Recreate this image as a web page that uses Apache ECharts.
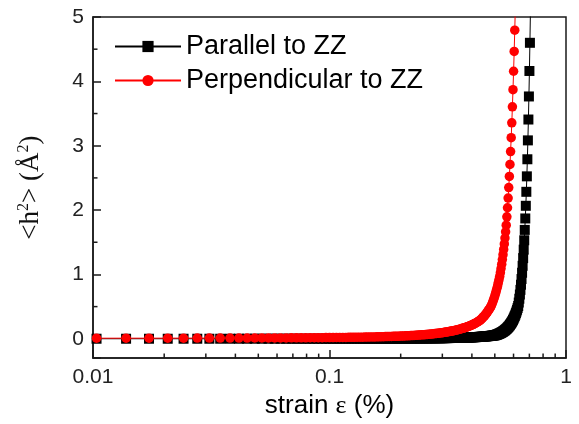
<!DOCTYPE html>
<html><head><meta charset="utf-8">
<script src="https://cdn.jsdelivr.net/npm/echarts@6/dist/echarts.min.js"></script>
<style>html,body{margin:0;padding:0;background:#fff}#c{width:579px;height:424px}</style>
</head><body><div id="c"></div>
<script>
// strain values (%)
const strain = [
0.01035,0.0138,0.01725,0.0207,0.02415,0.0276,0.03105,0.0345,0.03795,0.0414,
0.04485,0.0483,0.05175,0.0552,0.05865,0.0621,0.06555,0.069,0.07245,0.0759,
0.07935,0.0828,0.08625,0.0897,0.09315,0.0966,0.10005,0.1035,0.10695,0.1104,
0.11385,0.1173,0.12075,0.1242,0.12765,0.1311,0.13455,0.138,0.14145,0.1449,
0.14835,0.1518,0.15525,0.1587,0.16215,0.1656,0.16905,0.1725,0.17595,0.1794,
0.18285,0.1863,0.18975,0.1932,0.19665,0.2001,0.20355,0.207,0.21045,0.2139,
0.21735,0.2208,0.22425,0.2277,0.23115,0.2346,0.23805,0.2415,0.24495,0.2484,
0.25185,0.2553,0.25875,0.2622,0.26565,0.2691,0.27255,0.276,0.27945,0.2829,
0.28635,0.2898,0.29325,0.2967,0.30015,0.3036,0.30705,0.3105,0.31395,0.3174,
0.32085,0.3243,0.32775,0.3312,0.33465,0.3381,0.34155,0.345,0.34845,0.3519,
0.35535,0.3588,0.36225,0.3657,0.36915,0.3726,0.37605,0.3795,0.38295,0.3864,
0.38985,0.3933,0.39675,0.4002,0.40365,0.4071,0.41055,0.414,0.41745,0.4209,
0.42435,0.4278,0.43125,0.4347,0.43815,0.4416,0.44505,0.4485,0.45195,0.4554,
0.45885,0.4623,0.46575,0.4692,0.47265,0.4761,0.47955,0.483,0.48645,0.4899,
0.49335,0.4968,0.50025,0.5037,0.50715,0.5106,0.51405,0.5175,0.52095,0.5244,
0.52785,0.5313,0.53475,0.5382,0.54165,0.5451,0.54855,0.552,0.55545,0.5589,
0.56235,0.5658,0.56925,0.5727,0.57615,0.5796,0.58305,0.5865,0.58995,0.5934,
0.59685,0.6003,0.60375,0.6072,0.61065,0.6141,0.61755,0.621,0.62445,0.6279,
0.63135,0.6348,0.63825,0.6417,0.64515,0.6486,0.65205,0.6555,0.65895,0.6624,
0.66585,0.6693,0.67275,0.6762,0.67965,0.6831,0.68655,0.69,0.69345,0.6969,
0.70035,0.7038,0.70725
];
// <h^2> (A^2), parallel to ZZ
const parallelZZ = [
0.0008,0.0008,0.0008,0.0008,0.0009,0.0009,0.0009,0.0009,0.0010,0.0010,
0.0010,0.0011,0.0011,0.0011,0.0012,0.0012,0.0012,0.0013,0.0013,0.0014,
0.0014,0.0014,0.0015,0.0015,0.0016,0.0016,0.0017,0.0017,0.0018,0.0018,
0.0019,0.0019,0.0020,0.0021,0.0021,0.0022,0.0023,0.0023,0.0024,0.0025,
0.0026,0.0026,0.0027,0.0028,0.0029,0.0030,0.0031,0.0032,0.0032,0.0033,
0.0035,0.0036,0.0037,0.0038,0.0039,0.0040,0.0041,0.0043,0.0044,0.0045,
0.0047,0.0048,0.0050,0.0051,0.0053,0.0054,0.0056,0.0058,0.0059,0.0061,
0.0063,0.0065,0.0067,0.0069,0.0071,0.0073,0.0075,0.0078,0.0080,0.0083,
0.0085,0.0088,0.0090,0.0093,0.0096,0.0099,0.0102,0.0105,0.0108,0.0111,
0.0115,0.0118,0.0122,0.0125,0.0129,0.0133,0.0137,0.0141,0.0146,0.0150,
0.0155,0.0159,0.0164,0.0169,0.0174,0.0180,0.0185,0.0191,0.0197,0.0203,
0.0209,0.0215,0.0221,0.0228,0.0235,0.0242,0.0250,0.0257,0.0265,0.0273,
0.0282,0.0290,0.0299,0.0308,0.0318,0.0327,0.0337,0.0348,0.0358,0.0369,
0.0380,0.0392,0.0404,0.0416,0.0429,0.0442,0.0455,0.0469,0.0484,0.0498,
0.0513,0.0529,0.0545,0.0579,0.0615,0.0653,0.0693,0.0736,0.0781,0.0830,
0.0881,0.0935,0.0993,0.1055,0.1120,0.1189,0.1262,0.1340,0.1423,0.1511,
0.1604,0.1704,0.1809,0.1920,0.2039,0.2165,0.2299,0.2441,0.2592,0.2756,
0.2931,0.3117,0.3314,0.3524,0.3748,0.3985,0.4238,0.4507,0.4792,0.5096,
0.5632,0.6224,0.6879,0.7602,0.8402,0.9285,1.0262,1.1341,1.2534,1.3852,
1.5309,1.6919,1.8698,2.0665,2.2838,2.5240,2.7895,3.0829,3.4071,3.7654,
4.1614,4.5991,5.0828
];
// <h^2> (A^2), perpendicular to ZZ
const perpendicularZZ = [
0.0091,0.0094,0.0096,0.0099,0.0102,0.0105,0.0108,0.0111,0.0114,0.0117,
0.0120,0.0124,0.0127,0.0131,0.0134,0.0138,0.0142,0.0146,0.0150,0.0155,
0.0159,0.0163,0.0168,0.0173,0.0178,0.0183,0.0188,0.0193,0.0199,0.0204,
0.0211,0.0216,0.0222,0.0229,0.0235,0.0242,0.0249,0.0256,0.0263,0.0271,
0.0279,0.0287,0.0295,0.0303,0.0312,0.0321,0.0330,0.0339,0.0349,0.0359,
0.0369,0.0379,0.0390,0.0401,0.0413,0.0424,0.0437,0.0449,0.0462,0.0475,
0.0488,0.0502,0.0516,0.0531,0.0546,0.0562,0.0578,0.0594,0.0611,0.0628,
0.0646,0.0664,0.0683,0.0703,0.0723,0.0743,0.0764,0.0786,0.0808,0.0831,
0.0854,0.0879,0.0904,0.0929,0.0956,0.0983,0.1011,0.1039,0.1069,0.1099,
0.1130,0.1162,0.1195,0.1229,0.1264,0.1300,0.1337,0.1375,0.1414,0.1454,
0.1496,0.1538,0.1582,0.1627,0.1673,0.1720,0.1769,0.1819,0.1871,0.1924,
0.1979,0.2035,0.2093,0.2152,0.2213,
0.2281,0.2350,0.2422,0.2496,0.2572,0.2650,0.2731,0.2814,
0.2929,0.3048,0.3173,0.3302,0.3437,0.3577,0.3723,0.3875,0.4033,0.4198,0.4369,0.4547,0.4733,0.4926,0.5127,
0.5406,0.5700,0.6011,0.6338,0.6683,0.7047,0.7430,0.7835,0.8261,0.8711,0.9185,0.9685,
1.028,1.092,1.160,1.231,1.307,1.388,1.474,1.565,1.662,1.765,
1.896,2.036,2.187,2.349,2.522,2.709,2.909,3.125,3.356,3.604,3.871,4.157,4.465,4.795,5.150
];
const seriesNames = ['Parallel to ZZ', 'Perpendicular to ZZ'];
const xTickLabels = ['0.01', '0.1', '1'];
const xMinorTicks = [0.02,0.03,0.04,0.05,0.06,0.07,0.08,0.09,0.2,0.3,0.4,0.5,0.6,0.7,0.8,0.9];
const yMinorTicks = [0.5,1.5,2.5,3.5,4.5];

const axisColor = '#1a1a1a';
const sans = 'Liberation Sans, Arial, sans-serif';
const serif = 'Liberation Serif, Times New Roman, serif';

const chart = echarts.init(document.getElementById('c'), null, {renderer: 'canvas'});
const pair = (ys) => ys.map((y, k) => [strain[k], y]);

chart.setOption({
  animation: false,
  backgroundColor: '#fff',
  grid: {left: 93, right: 13, top: 17, bottom: 57, show: true, borderColor: axisColor, borderWidth: 1.5, backgroundColor: 'transparent'},
  legend: {
    data: seriesNames, orient: 'vertical', left: 114, top: 33, padding: 0, itemGap: 7,
    itemWidth: 66, itemHeight: 14,
    textStyle: {fontFamily: sans, fontSize: 27, color: '#000'}
  },
  xAxis: {
    type: 'log', logBase: 10, min: 0.01, max: 1,
    name: 'strain {e|ε} (%)', nameLocation: 'middle', nameGap: 34,
    nameTextStyle: {fontFamily: sans, fontSize: 26, color: '#000',
      rich: {e: {fontFamily: serif, fontSize: 26, color: '#000'}}},
    axisLine: {onZero: false, lineStyle: {color: axisColor, width: 1.5}},
    axisTick: {inside: true, length: 8, lineStyle: {color: axisColor, width: 1.5}},
    splitLine: {show: false},
    axisLabel: {fontFamily: sans, fontSize: 21, color: '#222', margin: 9,
      formatter: (v) => { const k = Math.round(Math.log10(v)) + 2; return xTickLabels[k] !== undefined ? xTickLabels[k] : ''; }}
  },
  yAxis: {
    type: 'value', min: -0.3, max: 5,
    name: '<h{s|2}> (Å{s|2})', nameLocation: 'middle', nameRotate: 90, nameGap: 47,
    nameTextStyle: {fontFamily: serif, fontSize: 27, color: '#111', lineHeight: 30,
      rich: {s: {fontFamily: serif, fontSize: 16, color: '#111', verticalAlign: 'top', lineHeight: 16}}},
    axisLine: {onZero: false, lineStyle: {color: axisColor, width: 1.5}},
    axisTick: {inside: true, length: 8, lineStyle: {color: axisColor, width: 1.5}},
    splitLine: {show: false},
    axisLabel: {fontFamily: sans, fontSize: 21, color: '#222', margin: 9,
      formatter: (v) => Math.abs(v - Math.round(v)) < 1e-6 ? String(Math.round(v)) : ''}
  },
  series: [
    {
      name: seriesNames[0], type: 'line', data: pair(parallelZZ),
      symbol: 'rect', symbolSize: 10, showSymbol: true,
      itemStyle: {color: '#000'}, lineStyle: {color: '#000', width: 1},
      clip: true, z: 2
    },
    {
      name: seriesNames[1], type: 'line', data: pair(perpendicularZZ),
      symbol: 'circle', symbolSize: 9.5, showSymbol: true,
      itemStyle: {color: '#ff0000'}, lineStyle: {color: '#ff0000', width: 1},
      clip: true, z: 3
    },
    {
      type: 'custom', silent: true, z: 4,
      data: xMinorTicks.map(v => [v, 0]),
      renderItem: (params, api) => {
        const p = api.coord([api.value(0), api.value(1)]);
        const cs = params.coordSys; const yb = cs.y + cs.height;
        return {type: 'line', shape: {x1: p[0], y1: yb, x2: p[0], y2: yb - 4.5},
          style: {stroke: axisColor, lineWidth: 1.5}};
      }
    },
    {
      type: 'custom', silent: true, z: 4,
      data: yMinorTicks.map(v => [0.1, v]),
      renderItem: (params, api) => {
        const p = api.coord([api.value(0), api.value(1)]);
        const cs = params.coordSys;
        return {type: 'line', shape: {x1: cs.x, y1: p[1], x2: cs.x + 4.5, y2: p[1]},
          style: {stroke: axisColor, lineWidth: 1.5}};
      }
    }
  ]
});
</script>
</body></html>
